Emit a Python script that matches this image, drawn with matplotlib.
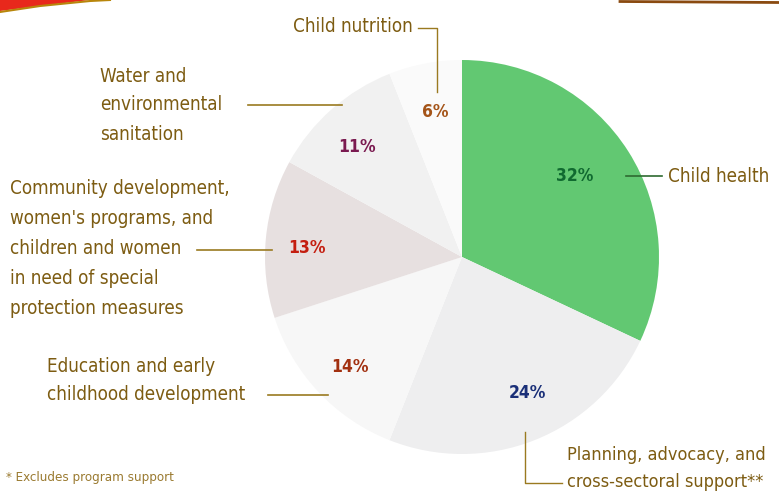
import matplotlib
matplotlib.use("Agg")
import matplotlib.pyplot as plt

categories = ["Child health", "Planning, advocacy, and cross-sectoral support**",
              "Education and early childhood development",
              "Community development, women's programs, and children and women in need of special protection measures",
              "Water and environmental sanitation", "Child nutrition"]
values = [32, 24, 14, 13, 11, 6]

W, H = 779, 493
FAM = "DejaVu Sans"
STR = "condensed"

fig = plt.figure(figsize=(W / 100, H / 100), dpi=100)
ax = fig.add_axes([0, 0, 1, 1])

def Y(y):
    return H - y

slice_colors = ["#62c872", "#eeeeef", "#f7f7f7", "#e7e0e0", "#f1f1f1", "#fafafa"]
ax.pie(values, colors=slice_colors, startangle=90, counterclock=False,
       center=(462, Y(257)), radius=197, wedgeprops=dict(linewidth=0),
       frame=True)
ax.set_xlim(0, W)
ax.set_ylim(0, H)
ax.set_aspect("equal")
ax.axis("off")

lab_col = "#7d5c12"
fs = 13.5

def lines(x, ys, texts, ha="left", size=fs):
    for y, t in zip(ys, texts):
        ax.text(x, Y(y), t, fontsize=size, family=FAM, stretch=STR, color=lab_col,
                ha=ha, va="center")

# labels
lines(413, [27], ["Child nutrition"], ha="right")
lines(100, [76, 104, 134], ["Water and", "environmental", "sanitation"])
lines(10, [189, 218, 248, 278, 308], ["Community development,", "women's programs, and",
                                      "children and women", "in need of special",
                                      "protection measures"])
lines(47, [366, 395], ["Education and early", "childhood development"])
lines(668, [176], ["Child health"])
lines(567, [455, 482], ["Planning, advocacy, and", "cross-sectoral support**"], size=13)

# leader lines
lc = "#9a7a20"
ax.plot([418, 437, 437], [Y(28), Y(28), Y(92)], color=lc, lw=1)
ax.plot([248, 342], [Y(105), Y(105)], color=lc, lw=1.2)
ax.plot([197, 272], [Y(250), Y(250)], color=lc, lw=1.2)
ax.plot([268, 328], [Y(395), Y(395)], color=lc, lw=1.2)
ax.plot([626, 662], [Y(176), Y(176)], color="#2e6a30", lw=1.2)
ax.plot([525, 525, 562], [Y(432), Y(483), Y(483)], color=lc, lw=1)

# percent labels
pct_pos = [(575, 176), (527, 393), (350, 367), (307, 248), (357, 147), (435, 112)]
pct_col = ["#106a30", "#1a2f78", "#a23010", "#c41e10", "#7a1a50", "#a45418"]
for v, (x, y), c in zip(values, pct_pos, pct_col):
    ax.text(x, Y(y), f"{v}%", fontsize=12.5, family=FAM, stretch=STR, weight="bold",
            color=c, ha="center", va="center")

# footnote
ax.text(6, Y(478), "* Excludes program support", fontsize=9.5, family=FAM, stretch=STR,
        color="#9a7a30", ha="left", va="center")

# page border strokes at top
ax.fill([0, 0, 40, 90, 0], [Y(0), Y(11), Y(6), Y(0), Y(0)], color="#e8281c", lw=0)
ax.plot([0, 40, 90, 110], [Y(12), Y(6), Y(1), Y(0)], color="#b8860b", lw=1.5)
ax.plot([620, 779], [Y(1.5), Y(2.5)], color="#8a4a10", lw=2)

fig.savefig("out.png", dpi=100, facecolor="white")
